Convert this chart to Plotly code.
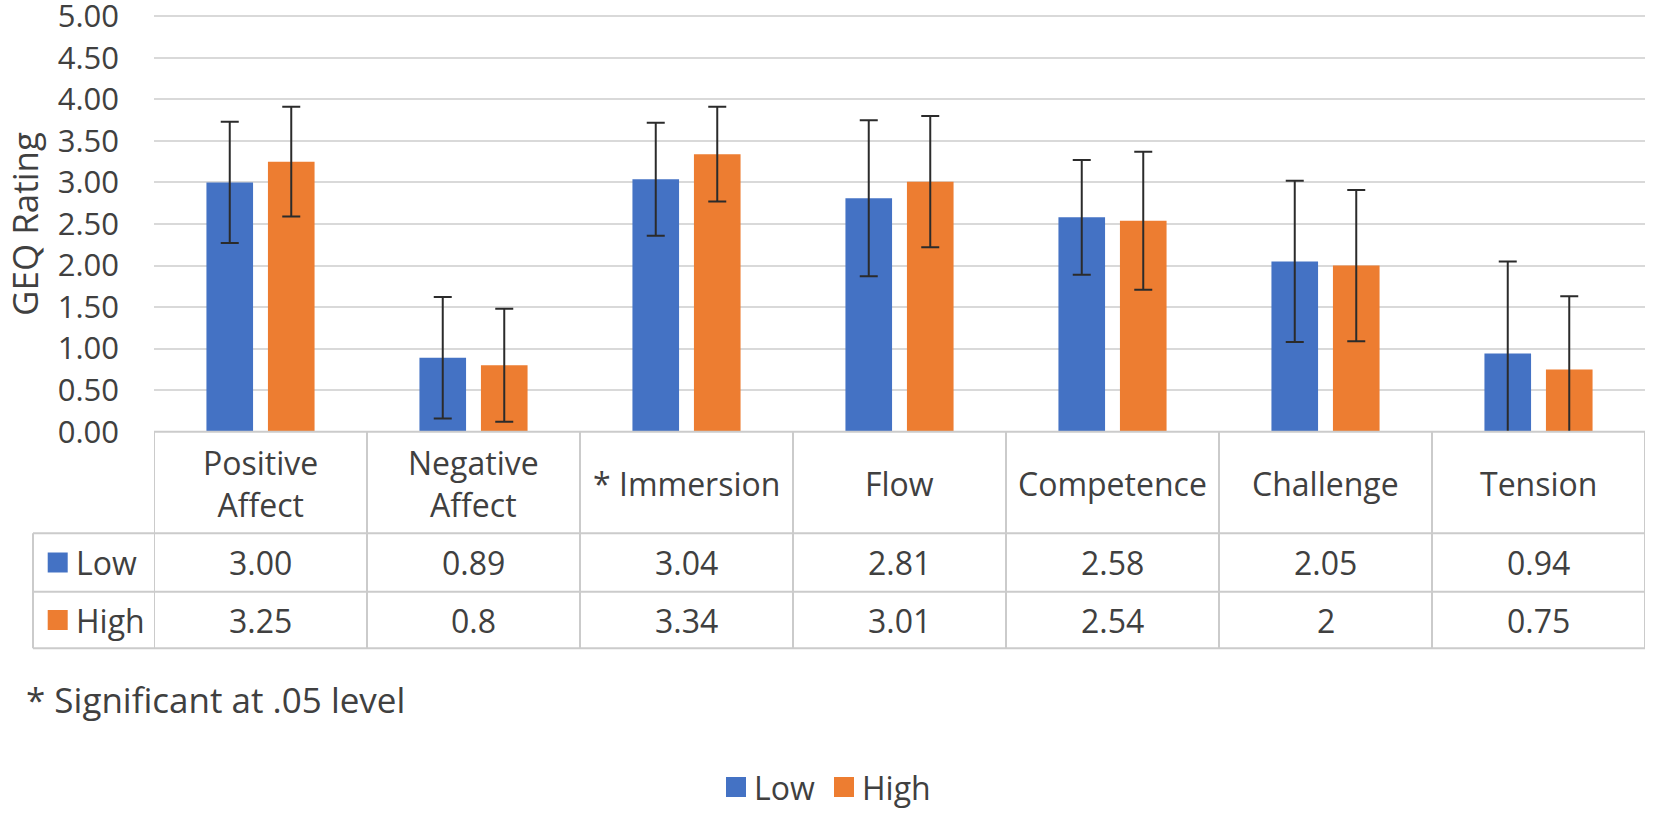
import plotly.graph_objects as go

# ---- data ----
categories = ["Positive<br>Affect", "Negative<br>Affect", "* Immersion", "Flow",
              "Competence", "Challenge", "Tension"]
series_names = ["Low", "High"]
low_values = [3.00, 0.89, 3.04, 2.81, 2.58, 2.05, 0.94]
high_values = [3.25, 0.8, 3.34, 3.01, 2.54, 2, 0.75]
low_sd = [0.73, 0.73, 0.68, 0.94, 0.69, 0.97, 1.11]
high_sd = [0.66, 0.68, 0.57, 0.79, 0.83, 0.91, 0.88]
y_tick_values = [0, 0.5, 1, 1.5, 2, 2.5, 3, 3.5, 4, 4.5, 5]
footnote = "* Significant at .05 level"
y_title = "GEQ Rating"

# ---- style ----
W, H = 1654, 817
FONT = "Open Sans"
FS_TICK = 31
FS_TABLE = 32
FS_BIG = 35
TXT = "#404040"
BLUE = "#4472C4"
ORANGE = "#ED7D31"
GRID = "#d9d9d9"
TLINE = "#cbcbcb"

def px_x(p):
    return p / W

def px_y(p):
    return 1 - p / H

plot_left, plot_right = 154, 1645
plot_top, plot_bottom = 16.3, 431.7          # pixel rows of 5.00 and 0.00
y_max = 5.1                                   # axis range top (a little above 5.00)
ppu = (plot_bottom - plot_top) / 5.0
domain_top = plot_bottom - y_max * ppu
row1_bottom, row2_bottom, row3_bottom = 533.3, 591.7, 648.3
key_left = 33

fig = go.Figure()
err_style = dict(type="data", symmetric=True, color="#2b2b2b", thickness=2, width=9)
fig.add_trace(go.Bar(x=categories, y=low_values, name=series_names[0],
                     marker=dict(color=BLUE, line=dict(width=0)),
                     error_y=dict(array=low_sd, **err_style)))
fig.add_trace(go.Bar(x=categories, y=high_values, name=series_names[1],
                     marker=dict(color=ORANGE, line=dict(width=0)),
                     error_y=dict(array=high_sd, **err_style)))

shapes = []
line = dict(color=TLINE, width=2)
# table vertical lines at category boundaries
for k in range(len(categories) + 1):
    shapes.append(dict(type="line", xref="x", yref="paper",
                       x0=k - 0.5, x1=k - 0.5,
                       y0=px_y(plot_bottom), y1=px_y(row3_bottom), line=line))
# key column left border
shapes.append(dict(type="line", xref="paper", yref="paper",
                   x0=px_x(key_left), x1=px_x(key_left),
                   y0=px_y(row1_bottom), y1=px_y(row3_bottom), line=line))
# horizontal table lines
shapes.append(dict(type="line", xref="paper", yref="paper",
                   x0=px_x(plot_left), x1=px_x(plot_right),
                   y0=px_y(plot_bottom), y1=px_y(plot_bottom), line=line))
for yy in (row1_bottom, row2_bottom, row3_bottom):
    shapes.append(dict(type="line", xref="paper", yref="paper",
                       x0=px_x(key_left), x1=px_x(plot_right),
                       y0=px_y(yy), y1=px_y(yy), line=line))
# legend keys inside the table
row_centers = [(row1_bottom + row2_bottom) / 2, (row2_bottom + row3_bottom) / 2]
for yc, col in zip(row_centers, (BLUE, ORANGE)):
    shapes.append(dict(type="rect", xref="paper", yref="paper",
                       x0=px_x(47.7), x1=px_x(67.7), y0=px_y(yc - 10), y1=px_y(yc + 10),
                       fillcolor=col, line=dict(width=0)))

# bottom legend (keys drawn as squares, names as text)
legend_y = 787
legend_items = [(series_names[0], BLUE, 726), (series_names[1], ORANGE, 834)]
for name, col, x0 in legend_items:
    shapes.append(dict(type="rect", xref="paper", yref="paper",
                       x0=px_x(x0), x1=px_x(x0 + 20), y0=px_y(legend_y - 10), y1=px_y(legend_y + 10),
                       fillcolor=col, line=dict(width=0)))

annotations = []
tfont = dict(family=FONT, size=FS_TABLE, color=TXT)
bfont = dict(family=FONT, size=FS_BIG, color=TXT)
for i, c in enumerate(categories):
    annotations.append(dict(xref="x", yref="paper", x=c, y=px_y((plot_bottom + row1_bottom) / 2 + 1),
                            text=c, showarrow=False, font=tfont,
                            xanchor="center", yanchor="middle", align="center"))
    annotations.append(dict(xref="x", yref="paper", x=c, y=px_y(row_centers[0]),
                            text=f"{low_values[i]:.2f}", showarrow=False, font=tfont,
                            xanchor="center", yanchor="middle"))
    annotations.append(dict(xref="x", yref="paper", x=c, y=px_y(row_centers[1]),
                            text=f"{high_values[i]:g}", showarrow=False, font=tfont,
                            xanchor="center", yanchor="middle"))
for name, yc in zip(series_names, row_centers):
    annotations.append(dict(xref="paper", yref="paper", x=px_x(74), y=px_y(yc),
                            text=name, showarrow=False, font=tfont,
                            xanchor="left", yanchor="middle"))
for name, col, x0 in legend_items:
    annotations.append(dict(xref="paper", yref="paper", x=px_x(x0 + 26), y=px_y(legend_y),
                            text=name, showarrow=False, font=tfont,
                            xanchor="left", yanchor="middle"))
annotations.append(dict(xref="paper", yref="paper", x=px_x(24), y=px_y((plot_top + plot_bottom) / 2),
                        text=y_title, textangle=-90, showarrow=False, font=bfont,
                        xanchor="center", yanchor="middle"))
annotations.append(dict(xref="paper", yref="paper", x=px_x(24), y=px_y(699),
                        text=footnote, showarrow=False, font=bfont,
                        xanchor="left", yanchor="middle"))

fig.update_layout(
    width=W, height=H,
    margin=dict(l=0, r=0, t=0, b=0),
    paper_bgcolor="white", plot_bgcolor="white",
    font=dict(family=FONT, size=FS_TABLE, color=TXT),
    barmode="group", bargap=0.4225, bargroupgap=0.242,
    xaxis=dict(domain=[px_x(plot_left), px_x(plot_right)], range=[-0.5, 6.5],
               showticklabels=False, showgrid=False, zeroline=False, showline=False,
               ticks="", automargin=False),
    yaxis=dict(domain=[px_y(plot_bottom), px_y(domain_top)], range=[0, y_max],
               tickvals=y_tick_values, tickformat=".2f", showgrid=True,
               gridcolor=GRID, gridwidth=1.6, zeroline=False, showline=False,
               ticks="", ticklabelstandoff=34, automargin=False,
               ticklabeloverflow="allow",
               tickfont=dict(family=FONT, size=FS_TICK, color=TXT)),
    shapes=shapes, annotations=annotations,
    showlegend=False,
)

fig.write_html("out.html", config={"displayModeBar": False},
               post_script="document.body.style.margin='0';")
